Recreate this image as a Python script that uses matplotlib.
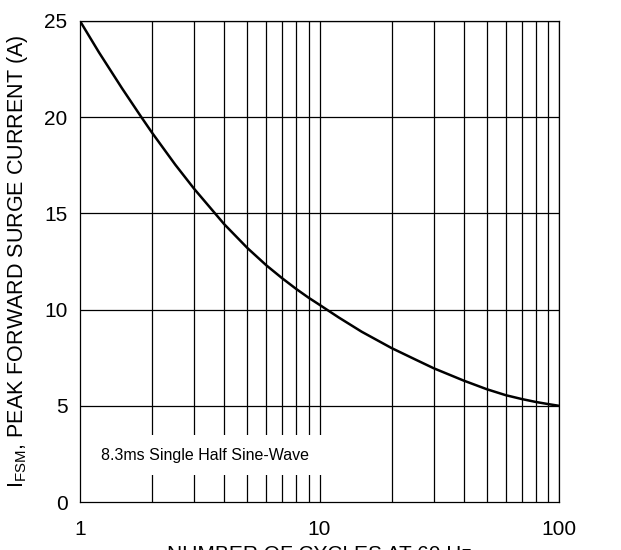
import numpy as np
import matplotlib as mpl
import matplotlib.pyplot as plt

mpl.rc('font', family=['Liberation Sans', 'DejaVu Sans'], size=15)
mpl.rc('mathtext', fontset='custom', rm='Liberation Sans')

# curve
cycles = [1, 1.2, 1.5, 1.8, 2, 2.5, 3, 4, 5, 6, 7, 8, 9, 10, 12, 15,
          20, 25, 30, 40, 50, 60, 70, 80, 90, 100]
current = [25, 23.37, 21.49, 20.02, 19.19, 17.53, 16.27, 14.44, 13.2,
           12.3, 11.62, 11.07, 10.62, 10.25, 9.6, 8.85, 8.0, 7.42, 6.95,
           6.31, 5.86, 5.55, 5.35, 5.2, 5.09, 5.0]

xticks = [1, 10, 100]
yticks = [0, 5, 10, 15, 20, 25]


def add_axes1(fig, lm, bm, rm, tm):
    return fig.add_axes((lm, bm, rm - lm, tm - bm))


fig = plt.figure(figsize=(6.21, 5.5), dpi=100)
ax = add_axes1(fig, lm=80/621, bm=48/550, rm=559/621, tm=529/550)

ax.set_xscale('log')
ax.set_xlim(1, 100)
ax.set_ylim(0, 25)

# grid lines
for dec in [1, 10]:
    for m in range(2, 11):
        ax.axvline(dec * m, color='black', lw=0.9, zorder=1)
for y in yticks[1:]:
    ax.axhline(y, color='black', lw=0.9, zorder=1)

ax.plot(cycles, current, color='black', lw=1.8, zorder=3,
        solid_joinstyle='round')

ax.text(3.33, 2.44, '8.3ms Single Half Sine-Wave', fontsize=11.5,
        ha='center', va='center', zorder=2,
        bbox=dict(facecolor='white', edgecolor='none', pad=9))

ax.set_xticks(xticks)
ax.set_xticklabels(['1', '10', '100'])
ax.xaxis.set_minor_locator(mpl.ticker.NullLocator())
ax.set_yticks(yticks)
ax.tick_params(length=0, labelsize=15)
ax.tick_params(axis='x', pad=13)
ax.tick_params(axis='y', pad=9)

for s in ax.spines.values():
    s.set_linewidth(0.9)

ax.set_xlabel('NUMBER OF CYCLES AT 60 Hz', fontsize=15, labelpad=4)
ax.set_ylabel(r'I$_{\mathregular{FSM}}$, PEAK FORWARD SURGE CURRENT (A)',
              fontsize=15.5, labelpad=10)

fig.savefig('out.png', dpi=100)
